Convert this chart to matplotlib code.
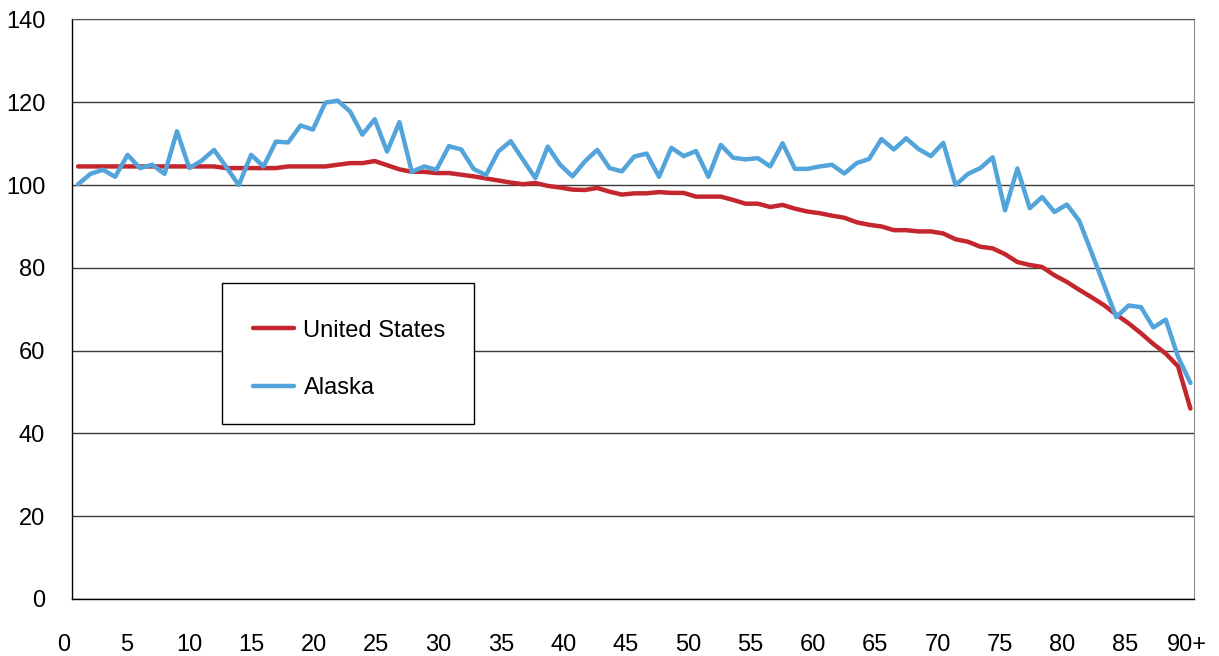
import numpy as np
import matplotlib
matplotlib.use("Agg")
import matplotlib.pyplot as plt
import matplotlib.transforms as mtransforms
from matplotlib.patches import Rectangle

plt.rcParams['font.family'] = ['Liberation Sans', 'DejaVu Sans']

# ── data: index by single year of age (0 .. 90+) ──
ages = np.arange(0, 91)
us = [104.5, 104.5, 104.5, 104.5, 104.5, 104.5, 104.5, 104.5, 104.5, 104.5,
      104.5, 104.5, 104.1, 104.1, 104.1, 104.1, 104.1, 104.5, 104.5, 104.5,
      104.5, 104.9, 105.3, 105.3, 105.8, 104.8, 103.8, 103.2, 103.2, 102.9,
      102.9, 102.5, 102.1, 101.6, 101.1, 100.6, 100.2, 100.5, 99.8, 99.4,
      98.9, 98.8, 99.3, 98.4, 97.7, 98.0, 98.0, 98.3, 98.1, 98.1,
      97.2, 97.2, 97.2, 96.4, 95.5, 95.5, 94.7, 95.2, 94.3, 93.6,
      93.2, 92.6, 92.1, 91.0, 90.4, 90.0, 89.1, 89.1, 88.8, 88.8,
      88.3, 86.9, 86.3, 85.1, 84.7, 83.3, 81.4, 80.7, 80.2, 78.2,
      76.6, 74.7, 72.9, 71.0, 68.7, 66.6, 64.2, 61.6, 59.3, 56.2,
      46.0]
alaska = [100.2, 102.7, 103.7, 102.0, 107.3, 104.1, 104.9, 102.7, 113.0, 104.1,
          105.9, 108.5, 104.3, 100.0, 107.3, 104.5, 110.5, 110.3, 114.4, 113.4,
          119.9, 120.4, 117.8, 112.2, 115.9, 108.1, 115.2, 103.2, 104.5, 103.7,
          109.4, 108.6, 103.9, 102.4, 108.1, 110.6, 106.1, 101.7, 109.3, 104.9,
          102.1, 105.7, 108.5, 104.1, 103.3, 106.9, 107.6, 102.0, 109.0, 107.0,
          108.2, 102.0, 109.7, 106.6, 106.2, 106.5, 104.5, 110.1, 103.9, 103.9,
          104.5, 104.9, 102.8, 105.3, 106.3, 111.1, 108.6, 111.3, 108.7, 107.0,
          110.2, 100.0, 102.7, 104.1, 106.7, 93.9, 104.0, 94.4, 97.1, 93.5,
          95.3, 91.4, 83.7, 75.9, 68.1, 70.9, 70.5, 65.6, 67.5, 58.5,
          52.2]
x_tick_vals = list(range(0, 91, 5))
x_tick_labels = [str(v) for v in x_tick_vals[:-1]] + ["90+"]
y_ticks = list(range(0, 141, 20))

US_RED = "#C4262E"
AK_BLUE = "#53A4DB"
FS = 17
W, H = 1219, 656

fig = plt.figure(figsize=(W / 100, H / 100), dpi=100)
ax = fig.add_axes([0.0587, 0.0869, 0.9208, 0.8834])

ax.plot(ages, us, color=US_RED, lw=3.2, label="United States", solid_capstyle="round")
ax.plot(ages, alaska, color=AK_BLUE, lw=3.2, label="Alaska", solid_capstyle="round")

ax.set_xlim(-0.53, 90.29)
ax.set_ylim(0, 140)
ax.set_yticks(y_ticks)
ax.tick_params(axis="y", length=0, pad=19, labelsize=FS)
ax.set_xticks([])
ax.yaxis.grid(True, color="#3c3c3c", lw=1.0)
ax.set_axisbelow(True)

for side in ["left", "bottom"]:
    ax.spines[side].set_color("black")
    ax.spines[side].set_linewidth(1.0)
ax.spines["top"].set_color("#555555")
ax.spines["right"].set_color("#8c8c8c")

# category labels sit about one step left of the points (as in the source sheet)
trans = mtransforms.blended_transform_factory(ax.transData, ax.transAxes)
for v, lab in zip(x_tick_vals, x_tick_labels):
    pos = v * 1.0097 - 1.13
    ax.text(pos, -0.08, lab, transform=trans, ha="center", va="center",
            fontsize=FS, clip_on=False)

# legend box drawn separately so the entries can sit a bit lower inside it
box = Rectangle((222 / W, 1 - 424 / H), 252 / W, 141 / H, transform=fig.transFigure,
                facecolor="white", edgecolor="black", lw=1.0, zorder=5, clip_on=False)
ax.add_patch(box)
leg = ax.legend(loc="upper left", bbox_to_anchor=(222 / W, 1 - 289 / H),
                bbox_transform=fig.transFigure, borderaxespad=0,
                fontsize=FS, frameon=False, handlelength=1.75, handletextpad=0.4,
                borderpad=1.3, labelspacing=1.5)
leg.set_zorder(6)

fig.savefig("out.png", dpi=100)
